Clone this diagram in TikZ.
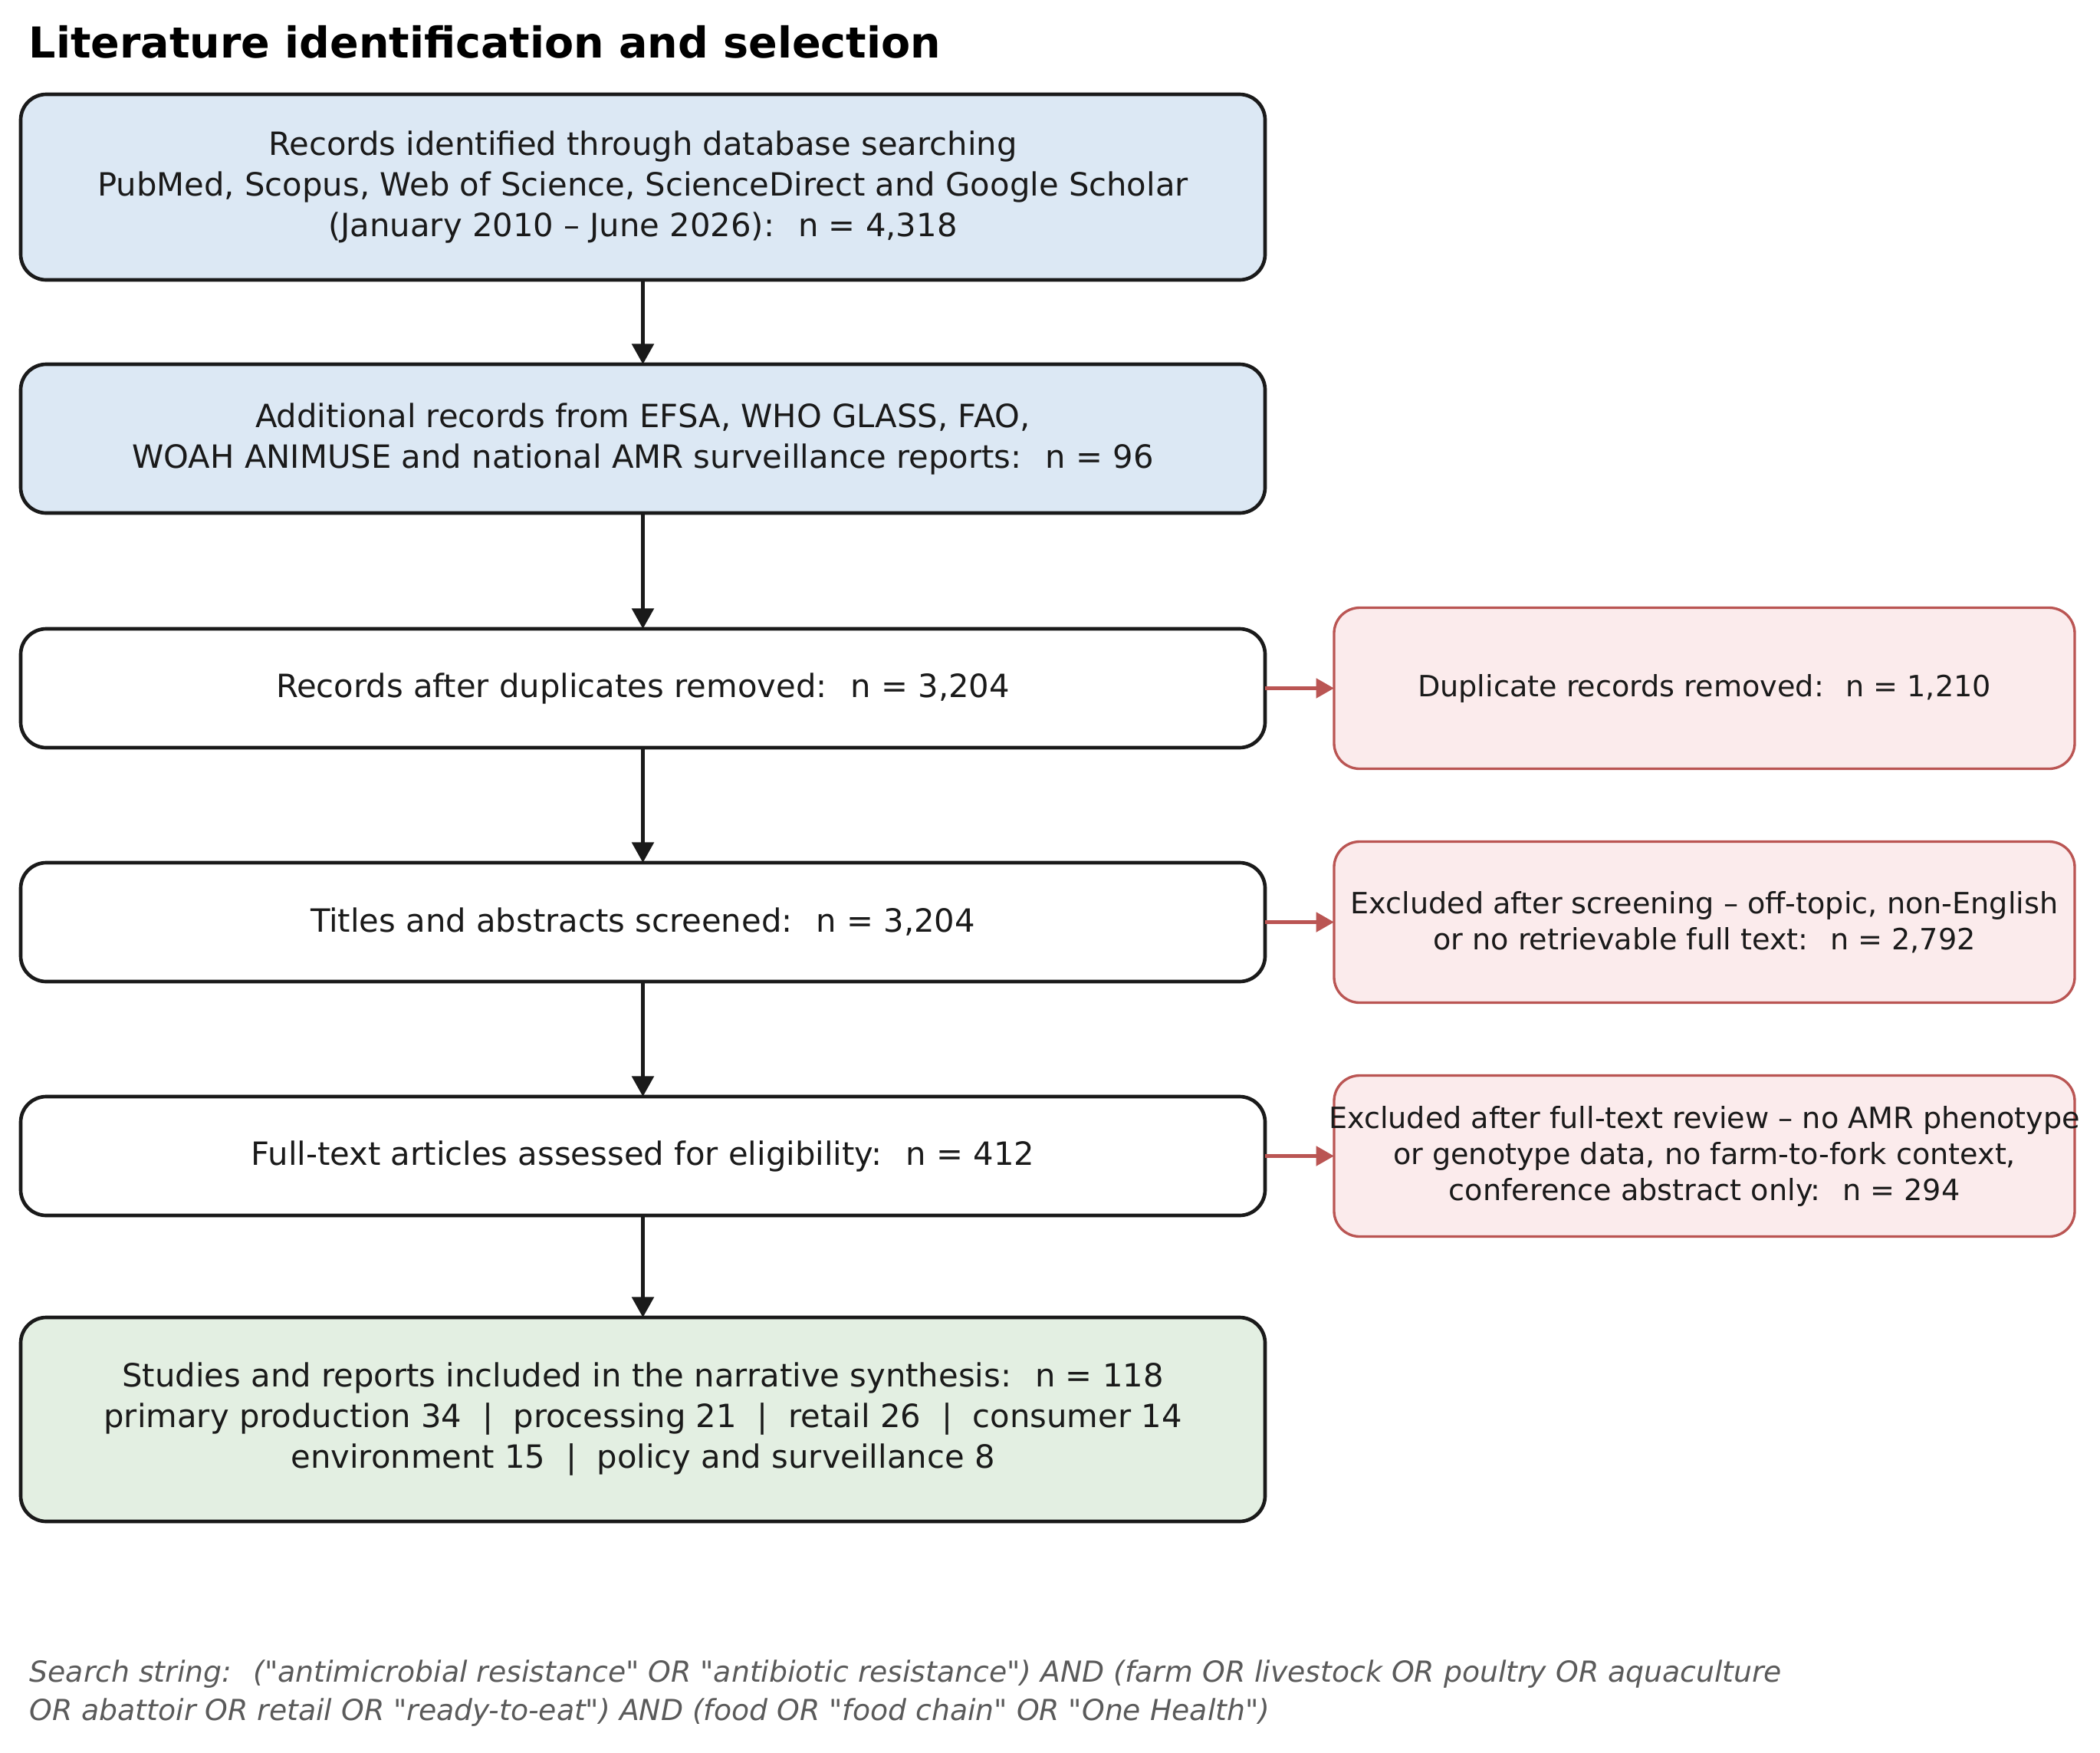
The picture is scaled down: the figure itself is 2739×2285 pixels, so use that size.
\documentclass[tikz,border=0pt]{standalone}
\usepackage{fontspec}
\setmainfont{DejaVu Sans}[Ligatures=TeXOff]
\usetikzlibrary{arrows.meta,positioning}
\definecolor{edge}{HTML}{1A1A1A}
\definecolor{ink}{HTML}{1A1A1A}
\definecolor{idfill}{HTML}{DCE8F4}
\definecolor{infill}{HTML}{E3EFE2}
\definecolor{exfill}{HTML}{FBEBEC}
\definecolor{exedge}{HTML}{BA5553}
\definecolor{note}{HTML}{5A5A5A}
\begin{document}
\begin{tikzpicture}[x=0.3pt,y=-0.3pt,
  box/.style={draw=edge,line width=1.4pt,rounded corners=10pt,align=center,inner sep=0pt,outer sep=0pt,
    minimum width=486.9pt,text=ink,font=\fontsize{12.52}{15.9}\selectfont},
  exbox/.style={draw=exedge,fill=exfill,line width=1pt,rounded corners=10pt,align=center,inner sep=0pt,outer sep=0pt,
    minimum width=289.8pt,minimum height=63pt,text=ink,font=\fontsize{11.45}{14.1}\selectfont},
  flow/.style={draw=edge,line width=1.4pt,-{Triangle[length=8pt,width=8.5pt]}},
  exflow/.style={draw=exedge,line width=1.5pt,-{Triangle[length=7pt,width=7.5pt]}}]
\useasboundingbox (0,0) rectangle (2739,2285);
\node[anchor=base west,inner sep=0pt,font=\bfseries\fontsize{16.66}{20}\selectfont] (title) at (37,75) {Literature identification and selection};
% main column
\node[box,fill=idfill,minimum height=72.6pt] (rec) at (838.5,244) {Records identified through database searching\\PubMed, Scopus, Web of Science, ScienceDirect and Google Scholar\\(January 2010 – June 2026):~ n = 4,318};
\node[box,fill=idfill,minimum height=58.2pt,below=33pt of rec] (add) {Additional records from EFSA, WHO GLASS, FAO,\\WOAH ANIMUSE and national AMR surveillance reports:~ n = 96};
\node[box,fill=white,minimum height=46.5pt,below=45.3pt of add] (dedup) {Records after duplicates removed:~ n = 3,204};
\node[box,fill=white,minimum height=46.5pt,below=45pt of dedup] (screen) {Titles and abstracts screened:~ n = 3,204};
\node[box,fill=white,minimum height=46.5pt,below=45pt of screen] (full) {Full-text articles assessed for eligibility:~ n = 412};
\node[box,fill=infill,minimum height=79.8pt,below=39.9pt of full] (incl) {Studies and reports included in the narrative synthesis:~ n = 118\\primary production 34~ |~ processing 21~ |~ retail 26~ |~ consumer 14\\environment 15~ |~ policy and surveillance 8};
% exclusions
\node[exbox,right=27pt of dedup] (dup) {Duplicate records removed:~ n = 1,210};
\node[exbox,right=27pt of screen] (exscr) {Excluded after screening – off-topic, non-English\\or no retrievable full text:~ n = 2,792};
\node[exbox,right=27pt of full] (exfull) {\makebox[280pt]{Excluded after full-text review – no AMR phenotype}\\or genotype data, no farm-to-fork context,\\conference abstract only:~ n = 294};
\draw[flow] (rec) -- (add); \draw[flow] (add) -- (dedup); \draw[flow] (dedup) -- (screen);
\draw[flow] (screen) -- (full); \draw[flow] (full) -- (incl);
\draw[exflow] (dedup) -- (dup); \draw[exflow] (screen) -- (exscr); \draw[exflow] (full) -- (exfull);
\node[anchor=base west,align=left,inner sep=0pt,text=note,font=\itshape\fontsize{11.33}{15}\selectfont] (search) at (38,2243) {Search string:~ ("antimicrobial resistance" OR "antibiotic resistance") AND (farm OR livestock OR poultry OR aquaculture\\OR abattoir OR retail OR "ready-to-eat") AND (food OR "food chain" OR "One Health")};
\end{tikzpicture}
\end{document}
